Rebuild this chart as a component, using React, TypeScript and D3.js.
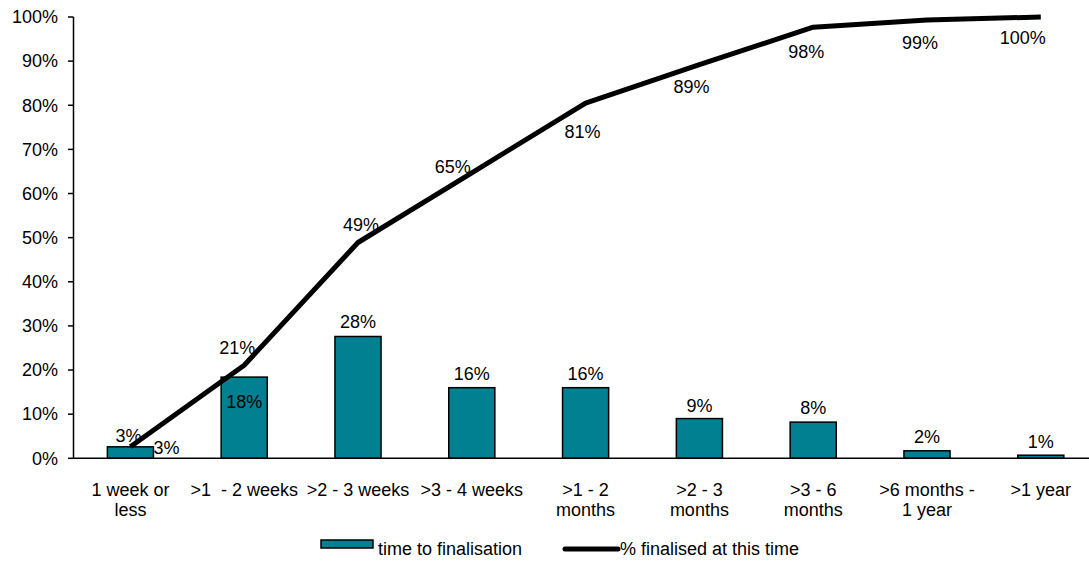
import React from "react";
import * as d3 from "d3";

// Time-to-finalisation categories
const categories: string[][] = [
  ["1 week or", "less"],
  [">1  - 2 weeks"],
  [">2 - 3 weeks"],
  [">3 - 4 weeks"],
  [">1 - 2", "months"],
  [">2 - 3", "months"],
  [">3 - 6", "months"],
  [">6 months -", "1 year"],
  [">1 year"],
];

// Share finalised within each band
const timeToFinalisation = [0.026, 0.184, 0.276, 0.16, 0.16, 0.09, 0.082, 0.017, 0.007];
// Cumulative share finalised by the end of each band
const cumulativeFinalised = [0.026, 0.211, 0.489, 0.647, 0.805, 0.892, 0.977, 0.993, 1.0];

const yTicks = [0, 0.1, 0.2, 0.3, 0.4, 0.5, 0.6, 0.7, 0.8, 0.9, 1.0];

// Label offsets (px) relative to each mark
const barLabelOffsets: [number, number][] = [
  [-2, -11], [0, 25], [0, -15], [0, -14], [0, -14], [0, -13], [0, -14], [0, -14], [0, -14],
];
const lineLabelOffsets: [number, number][] = [
  [36, 1], [-7, -17], [3, -18], [-19, -6], [-3, 29], [-8, 22], [-7, 25], [-7, 23], [-18, 21],
];

const W = 1089;
const H = 563;
const FONT = "'Liberation Sans', Arial, sans-serif";
const TEAL = "#008090";
const FS = 18;

const pct = (v: number) => `${Math.round(v * 100)}%`;

export default function App() {
  const x = d3
    .scaleBand<number>()
    .domain(categories.map((_, i) => i))
    .range([73.5, 73.5 + 9 * 113.8])
    .paddingInner(0)
    .paddingOuter(0);
  const y = d3.scaleLinear().domain([0, 1]).range([458.3, 17]);
  const bw = x.bandwidth();
  const barW = bw * 0.405;
  const cx = (i: number) => (x(i) as number) + bw / 2;

  const line = d3
    .line<number>()
    .x((_, i) => cx(i))
    .y((d) => y(d));

  return (
    <div style={{ position: "fixed", left: 0, top: 0 }}>
      <svg width={W} height={H} style={{ display: "block", fontFamily: FONT }}>
        <rect width={W} height={H} fill="#fff" />
        {/* y axis */}
        <line x1={73.5} x2={73.5} y1={y(1)} y2={y(0)} stroke="#000" strokeWidth={1.5} />
        {yTicks.map((t) => (
          <g key={t}>
            <line x1={68} x2={73.5} y1={y(t)} y2={y(t)} stroke="#000" strokeWidth={1.5} />
            <text x={58} y={y(t)} dy="0.35em" textAnchor="end" fontSize={FS} fill="#000">
              {pct(t)}
            </text>
          </g>
        ))}
        {/* bars */}
        {timeToFinalisation.map((v, i) => (
          <rect
            key={i}
            x={cx(i) - barW / 2}
            y={y(v)}
            width={barW}
            height={y(0) - y(v)}
            fill={TEAL}
            stroke="#000"
            strokeWidth={1.5}
          />
        ))}
        {/* x axis */}
        <line x1={73.5} x2={W} y1={y(0)} y2={y(0)} stroke="#000" strokeWidth={1.5} />
        {categories.map((lines, i) => (
          <text key={i} x={cx(i)} y={496} textAnchor="middle" fontSize={FS} fill="#000" style={{ whiteSpace: "pre" }}>
            {lines.map((l, j) => (
              <tspan key={j} x={cx(i)} dy={j === 0 ? 0 : 20}>
                {l}
              </tspan>
            ))}
          </text>
        ))}
        {/* cumulative line */}
        <path
          d={line(cumulativeFinalised) as string}
          fill="none"
          stroke="#000"
          strokeWidth={5}
          strokeLinejoin="round"
        />
        {/* bar labels */}
        {timeToFinalisation.map((v, i) => (
          <text
            key={i}
            x={cx(i) + barLabelOffsets[i][0]}
            y={y(v) + barLabelOffsets[i][1]}
            dy="0.35em"
            textAnchor="middle"
            fontSize={FS}
            fill="#000"
          >
            {pct(v)}
          </text>
        ))}
        {/* line labels */}
        {cumulativeFinalised.map((v, i) => (
          <text
            key={i}
            x={cx(i) + lineLabelOffsets[i][0]}
            y={y(v) + lineLabelOffsets[i][1]}
            dy="0.35em"
            textAnchor="middle"
            fontSize={FS}
            fill="#000"
          >
            {pct(v)}
          </text>
        ))}
        {/* legend */}
        <rect x={321} y={540} width={52} height={8} fill={TEAL} stroke="#000" strokeWidth={1.5} />
        <text x={378} y={549} dy="0.35em" fontSize={FS} fill="#000">
          time to finalisation
        </text>
        <line x1={565} x2={618} y1={549} y2={549} stroke="#000" strokeWidth={5} strokeLinecap="round" />
        <text x={620} y={549} dy="0.35em" fontSize={FS} fill="#000">
          % finalised at this time
        </text>
      </svg>
    </div>
  );
}
